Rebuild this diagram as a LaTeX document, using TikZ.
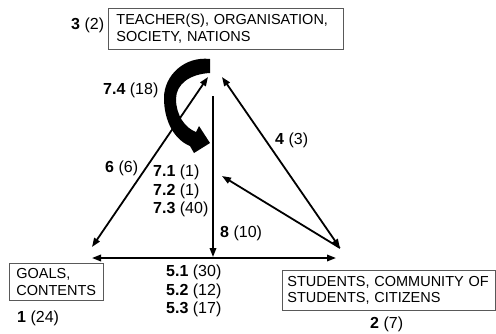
\documentclass[tikz,border=0pt]{standalone}
\usepackage{fontspec}
\setmainfont{Liberation Sans}
\usetikzlibrary{arrows.meta}
\begin{document}
\begin{tikzpicture}[x=1pt,y=-1pt,
  box/.style={draw=black!65, line width=0.8pt, anchor=north west, align=left,
    font=\fontsize{14.5}{16.5}\selectfont, inner ysep=0pt},
  lbl/.style={anchor=west, inner sep=0pt, align=left, font=\fontsize{16}{18.5}\selectfont},
  tip/.style={Triangle[length=9pt,width=6.5pt]},
  conn/.style={line width=1.8pt, -{Triangle[length=9pt,width=6.5pt]}},
  dconn/.style={line width=1.8pt, {Triangle[length=9pt,width=6.5pt]}-{Triangle[length=9pt,width=6.5pt]}}]
\useasboundingbox (0,0) rectangle (496,333);

% boxes
\node[box, minimum width=235pt, minimum height=41pt, text width=219pt, inner xsep=8pt]
  (teacher) at (108,8) {TEACHER(S), ORGANISATION,\\SOCIETY, NATIONS};
\node[box, minimum width=94pt, minimum height=37pt, text width=80pt, inner xsep=7pt]
  (goals) at (9,263) {GOALS,\\CONTENTS};
\node[box, minimum width=213pt, minimum height=40pt, text width=203pt, inner xsep=5pt]
  (students) at (282,270) {STUDENTS, COMMUNITY OF\\STUDENTS, CITIZENS};

% labels
\node[lbl] (l3) at (71,25) {\textbf{3} (2)};
\node[lbl] (l74) at (103,90) {\textbf{7.4} (18)};
\node[lbl] (l6) at (105,168) {\textbf{6} (6)};
\node[lbl] (l7) at (153,191) {\textbf{7.1} (1)\\\textbf{7.2} (1)\\\textbf{7.3} (40)};
\node[lbl] (l8) at (220,233) {\textbf{8} (10)};
\node[lbl] (l4) at (275,140) {\textbf{4} (3)};
\node[lbl] (l5) at (166,291) {\textbf{5.1} (30)\\\textbf{5.2} (12)\\\textbf{5.3} (17)};
\node[lbl] (l1) at (17,318) {\textbf{1} (24)};
\node[lbl] (l2) at (370,324) {\textbf{2} (7)};

% connector end points
\coordinate (t6) at (208,77);
\coordinate (b6) at (92,247);
\coordinate (t4) at (222,77);
\coordinate (r4) at (340,248);
\coordinate (m7) at (222,176);
\coordinate (v1) at (213,96);
\coordinate (v2) at (213,257);
\coordinate (h1) at (92,258);
\coordinate (h2) at (336,258);

\draw[dconn] (b6) -- (t6);
\draw[dconn] (t4) -- (r4);
\draw[conn] (r4) -- (m7);
\draw[conn] (v1) -- (v2);
\draw[dconn] (h1) -- (h2);

% curved thick arrow 7.4
\fill (210,59) .. controls (185,56) and (164,75) .. (164,98)
  .. controls (164,122) and (175,140) .. (190,146)
  -- (194,153) -- (210,143) -- (199,126) -- (196,132)
  .. controls (185,128) and (176,115) .. (176,99)
  .. controls (176,84) and (190,74) .. (210,73) -- cycle;
\end{tikzpicture}
\end{document}
